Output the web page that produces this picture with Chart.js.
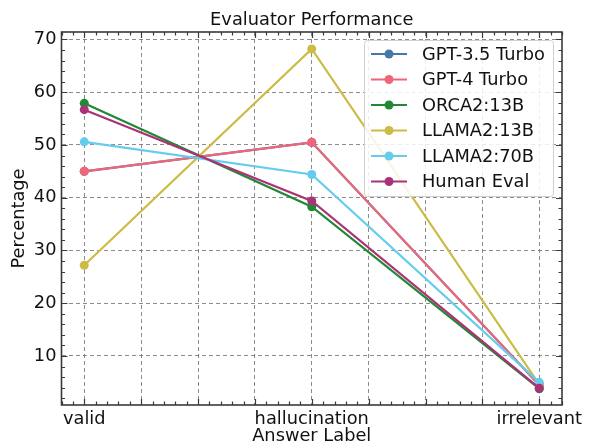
<!DOCTYPE html>
<html>
<head>
<meta charset="utf-8">
<script src="https://cdn.jsdelivr.net/npm/chart.js@4/dist/chart.umd.min.js"></script>
<style>
  html, body { margin: 0; padding: 0; background: #ffffff; }
  canvas { display: block; }
</style>
</head>
<body>
<canvas id="c" width="589" height="445"></canvas>
<script>
// ---- data ----
const categories = ['valid', 'hallucination', 'irrelevant'];
const seriesNames = ['GPT-3.5 Turbo', 'GPT-4 Turbo', 'ORCA2:13B', 'LLAMA2:13B', 'LLAMA2:70B', 'Human Eval'];
const gpt35Turbo = [45.0, 50.5, 4.5];
const gpt4Turbo  = [45.0, 50.5, 4.5];
const orca13b    = [57.9, 38.3, 3.8];
const llama13b   = [27.2, 68.2, 4.6];
const llama70b   = [50.6, 44.4, 5.0];
const humanEval  = [56.7, 39.4, 3.9];
const yTickLabels = [10, 20, 30, 40, 50, 60, 70];
const xGridSteps = [0, 0.25, 0.5, 0.75, 1, 1.25, 1.5, 1.75, 2];
const chartTitle = 'Evaluator Performance';

const seriesValues = [gpt35Turbo, gpt4Turbo, orca13b, llama13b, llama70b, humanEval];
const colors = ['#4477AA', '#EE6677', '#228833', '#CCBB44', '#66CCEE', '#AA3377'];

const FONT = 'DejaVu Sans';
const FS = 17.8;

const datasets = seriesNames.map((name, i) => ({
  label: name,
  data: seriesValues[i].map((v, k) => ({ x: k, y: v })),
  borderColor: colors[i],
  backgroundColor: colors[i],
  pointBackgroundColor: colors[i],
  pointBorderColor: colors[i],
  pointBorderWidth: 0,
  pointRadius: 4.5,
  borderWidth: 2.2,
  tension: 0,
  order: seriesNames.length - i
}));

const frameTicks = {
  id: 'frameTicks',
  afterDraw(chart) {
    const { ctx, chartArea: a, scales: { x, y } } = chart;
    ctx.save();
    // title centred over the plot area
    ctx.font = FS + 'px "' + FONT + '"';
    ctx.fillStyle = '#111';
    ctx.textAlign = 'center';
    ctx.textBaseline = 'alphabetic';
    ctx.fillText(chartTitle, (a.left + a.right) / 2, 24.5);

    ctx.strokeStyle = '#3a3a3a';
    ctx.lineWidth = 1.2;
    const major = 6, minor = 3.5;
    ctx.beginPath();
    for (let k = -2; k <= 42; k++) {
      const v = k * 0.05;
      if (v < x.min - 1e-9 || v > x.max + 1e-9) continue;
      const px = Math.round(x.getPixelForValue(v)) + 0.5;
      const len = (k % 5 === 0) ? major : minor;
      ctx.moveTo(px, a.bottom); ctx.lineTo(px, a.bottom - len);
      ctx.moveTo(px, a.top); ctx.lineTo(px, a.top + len);
    }
    for (let v = 2; v <= 70; v += 2) {
      if (v < y.min || v > y.max) continue;
      const py = Math.round(y.getPixelForValue(v)) + 0.5;
      const len = (v % 10 === 0) ? major : minor;
      ctx.moveTo(a.left, py); ctx.lineTo(a.left + len, py);
      ctx.moveTo(a.right, py); ctx.lineTo(a.right - len, py);
    }
    ctx.stroke();
    ctx.lineWidth = 1.6;
    ctx.strokeRect(a.left, a.top, a.right - a.left, a.bottom - a.top);

    // legend
    const lx = 364, ly = 40, lw = 189, lh = 156;
    ctx.fillStyle = 'rgba(255,255,255,0.85)';
    ctx.strokeStyle = '#d0d0d0';
    ctx.lineWidth = 1;
    ctx.beginPath();
    if (ctx.roundRect) ctx.roundRect(lx + 0.5, ly + 0.5, lw, lh, 3); else ctx.rect(lx + 0.5, ly + 0.5, lw, lh);
    ctx.fill();
    ctx.stroke();
    ctx.textBaseline = 'middle';
    ctx.textAlign = 'left';
    chart.data.datasets.forEach((ds, i) => {
      const ry = 54 + i * 25.5;
      ctx.strokeStyle = ds.borderColor;
      ctx.lineWidth = 2.2;
      ctx.beginPath();
      ctx.moveTo(371, ry); ctx.lineTo(407, ry);
      ctx.stroke();
      ctx.fillStyle = ds.borderColor;
      ctx.beginPath();
      ctx.arc(389, ry, 4.5, 0, Math.PI * 2);
      ctx.fill();
      ctx.fillStyle = '#111';
      ctx.fillText(ds.label, 422, ry + 1);
    });
    ctx.restore();
  }
};

new Chart(document.getElementById('c'), {
  type: 'line',
  data: { datasets },
  plugins: [frameTicks],
  options: {
    responsive: false,
    animation: false,
    devicePixelRatio: 1,
    layout: { padding: { left: 0, right: 27, top: 32, bottom: 0 } },
    plugins: {
      legend: { display: false },
      tooltip: { enabled: false },
      title: { display: false }
    },
    scales: {
      x: {
        type: 'linear',
        min: -0.1,
        max: 2.1,
        afterBuildTicks: (s) => { s.ticks = xGridSteps.map(v => ({ value: v })); },
        afterFit: (s) => { s.height = 40; },
        ticks: {
          autoSkip: false,
          maxRotation: 0,
          padding: 4,
          color: '#111',
          font: { family: FONT, size: FS },
          callback: (v) => (Number.isInteger(v) && categories[v] !== undefined) ? categories[v] : ''
        },
        grid: { color: 'rgba(120,120,120,0.85)', lineWidth: 1, drawTicks: false },
        border: { display: false, dash: [4, 3] },
        title: {
          display: true, text: 'Answer Label', color: '#111',
          font: { family: FONT, size: FS, lineHeight: 1.2 },
          padding: { top: 0, bottom: -2 }
        }
      },
      y: {
        type: 'linear',
        min: 0.71,
        max: 71.42,
        afterBuildTicks: (s) => { s.ticks = yTickLabels.map(v => ({ value: v })); },
        afterFit: (s) => { s.width = 61.5; },
        ticks: {
          padding: 5,
          color: '#111',
          font: { family: FONT, size: FS }
        },
        grid: { color: 'rgba(120,120,120,0.85)', lineWidth: 1, drawTicks: false },
        border: { display: false, dash: [4, 3] },
        title: {
          display: true, text: 'Percentage', color: '#111',
          font: { family: FONT, size: FS, lineHeight: 1.2 },
          padding: { top: 9, bottom: 0 }
        }
      }
    }
  }
});
</script>
</body>
</html>
